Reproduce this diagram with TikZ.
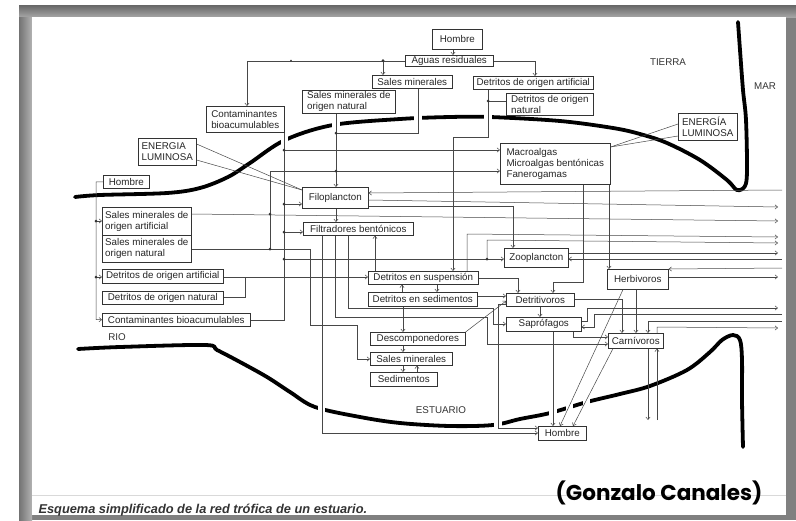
\documentclass[tikz,border=0pt]{standalone}
\usepackage{fontspec}
\setmainfont{Liberation Sans}
\newfontfamily\gcfont{Poppins}
\usetikzlibrary{arrows.meta,calc}
\tikzset{
 box/.style={draw=black!80, line width=0.6pt, fill=white, font=\fontsize{9.8}{11}\selectfont, text=black!85, inner sep=1pt, anchor=north west, align=left},
 ln/.style={draw=black!72, line width=0.5pt},
 arr/.style={ln, -{Straight Barb[length=2.6pt,width=4.2pt]}},
 bank/.style={line width=3.8pt, line cap=round, line join=round, draw=black},
 lbl/.style={font=\fontsize{9.8}{11}\selectfont, text=black!80},
 gap/.style={fill=white},
}
\newcommand{\mybox}[6]{\node[box, minimum width={(#4-#2)*1pt}, minimum height={(#5-#3)*1pt}] (#1) at (#2,#3) {#6};}
\newcommand{\jdot}[1]{\fill[black!80] #1 circle (1.5pt);}
\begin{document}
\begin{tikzpicture}[x=1pt,y=-1pt]
\useasboundingbox (0,0) rectangle (796,520);
\fill[white] (0,0) rectangle (796,520);
\fill[black!50] (19,5) rectangle (796,520);
\shade[top color=black!60, bottom color=black!35] (19,5) rectangle (796,17);
\shade[left color=black!55, right color=black!30] (19,17) rectangle (32,520);
\fill[white] (32,17) rectangle (786,515);
\draw[black!15, line width=0.6pt] (32,495) -- (786,495);

% banks
\draw[bank] plot[smooth, tension=0.55] coordinates {(75,197) (100,195) (167,193) (200,188) (228,177) (250,163) (285,140) (333,125) (400,119) (450,117) (490,117) (560,121) (613,128) (640,134) (667,143) (700,160) (727,180) (737,190) (745,186) (747,170) (746,120) (743,90) (740,50) (738,22)};
\draw[bank] plot[smooth, tension=0.55] coordinates {(78,349) (120,347) (205,345) (217,350) (240,362) (267,377) (290,392) (315,407) (360,417) (400,423) (450,426) (493,425) (520,419) (550,413) (587,402) (620,394) (650,386) (687,370) (710,352) (722,340) (733,335) (740,340) (742,360) (742,400) (743,447)};
\fill[gap] (281,130) rectangle (288,150);
\fill[gap] (332,116) rectangle (340,134);
\fill[gap] (414,110) rectangle (422,128);
\fill[gap] (484,108) rectangle (492,126);
\fill[gap] (318,398) rectangle (325,418);
\fill[gap] (494,414) rectangle (502,434);
\fill[gap] (549,402) rectangle (557,422);
\fill[gap] (566,397) rectangle (573,416);
\fill[gap] (583,392) rectangle (590,411);

% labels
\node[lbl] (tierra) at (668,62) {TIERRA};
\node[lbl] (mar) at (765,86) {MAR};
\node[lbl] (rio) at (117,337) {RIO};
\node[lbl] (estuario) at (441,410) {ESTUARIO};
\node[font=\bfseries\itshape\fontsize{12.8}{14}\selectfont, text=black!80, anchor=west] (cap) at (35,510) {Esquema simplificado de la red trófica de un estuario.};
\node[font=\gcfont\bfseries\fontsize{21.5}{24}\selectfont, text=black] (gc) at (659,493) {(Gonzalo Canales)};

% boxes
\mybox{hT}{432}{29}{482}{49}{Hombre}
\mybox{agu}{405}{55}{493}{66}{Aguas residuales}
\mybox{smT}{372}{75}{452}{88}{Sales minerales}
\mybox{daT}{473}{76}{593}{89}{Detritos de origen artificial}
\mybox{dnT}{506}{93}{593}{115}{Detritos de origen\\natural}
\mybox{smnT}{302}{90}{395}{113}{Sales minerales de\\origen natural}
\mybox{conT}{206}{106}{284}{132}{Contaminantes\\bioacumulables}
\mybox{enL}{138}{138}{196}{165}{ENERGIA\\LUMINOSA}
\mybox{enR}{678}{113}{737}{140}{ENERGÍA\\LUMINOSA}
\mybox{mac}{500}{143}{610}{184}{Macroalgas\\Microalgas bentónicas\\Fanerogamas}
\mybox{hL}{103}{175}{149}{188}{Hombre}
\mybox{fil}{302}{187}{368}{208}{Filoplancton}
\mybox{sma}{102}{207}{191}{235}{Sales minerales de\\origen artificial}
\mybox{smn}{102}{235}{191}{262}{Sales minerales de\\origen natural}
\mybox{ftb}{303}{222}{413}{235}{Filtradores bentónicos}
\mybox{zoo}{504}{248}{568}{267}{Zooplancton}
\mybox{daL}{102}{269}{223}{283}{Detritos de origen artificial}
\mybox{dsu}{368}{271}{478}{284}{Detritos en suspensión}
\mybox{her}{607}{269}{668}{289}{Herbivoros}
\mybox{dnL}{102}{291}{223}{304}{Detritos de origen natural}
\mybox{dse}{368}{292}{477}{306}{Detritos en sedimentos}
\mybox{dtv}{506}{293}{574}{306}{Detritivoros}
\mybox{conL}{102}{313}{250}{326}{Contaminantes bioacumulables}
\mybox{sap}{506}{317}{581}{331}{Saprófagos}
\mybox{des}{370}{332}{465}{345}{Descomponedores}
\mybox{car}{608}{333}{663}{348}{Carnívoros}
\mybox{smB}{370}{352}{452}{365}{Sales minerales}
\mybox{sed}{370}{372}{437}{386}{Sedimentos}
\mybox{hB}{538}{426}{586}{440}{Hombre}

% top connectors
\draw[arr] (453,0 |- hT.south) -- (453,0 |- agu.north);
\draw[arr] (agu.west) -| (247,0 |- conT.north);
\draw[arr] (383,0 |- agu.west) -- (383,0 |- smT.north);
\draw[arr] (agu.east) -| (535,0 |- daT.north);
\draw[ln] (418,0 |- smT.south) |- (336,133);
\draw[arr] (336,0 |- smnT.south) -- (336,0 |- fil.north);
\draw[ln] (270,171) -- (270,249);
\draw[arr] (270,171) -- (0,171 -| mac.west);
\draw[ln] (conL.east) -| (284,0 |- conT.south);
\draw[arr] (284,150) -- (0,150 -| mac.west);
\draw[arr] (284,204) -- (0,204 -| fil.west);
\draw[arr] (284,232) -- (0,232 -| ftb.west);
\draw[arr] (284,259) -- (0,259 -| zoo.west);
\draw[arr] (487,259) -- (487,240) -- (778,243);
\draw[ln] (enL.east |- 0,144) -- (fil.west |- 0,190);
\draw[ln] (enL.east |- 0,160) -- (fil.west |- 0,190);
\draw[ln] (enR.west |- 0,124) -- (mac.east |- 0,147);
\draw[ln] (enR.west |- 0,136) -- (mac.east |- 0,147);
\draw[ln] (488,0 |- daT.south) -- (488,137) -- (453,137);
\draw[arr] (453,137) -- (453,0 |- dsu.north);
\draw[ln] (488,101) -- (0,101 -| dnT.west);
\draw[arr] (583,0 |- mac.south) -- (583,282) -- (553,282) -- (553,0 |- dtv.north);
\draw[arr] (609,0 |- mac.south) -- (609,0 |- her.north);

% left connectors
\draw[arr] (hL.west) -| (96,319.5) -- (conL.west);
\draw[arr] (96,221) -- (0,221 -| sma.west);
\draw[arr] (96,277) -- (0,277 -| daL.west);
\draw[arr] (sma.east |- 0,214) -- (778,221);
\draw[arr] (smn.east |- 0,249) -- (310,249) -- (310,325) -- (357,325) -- (357,359) -- (0,359 -| smB.west);
\draw[arr] (daL.east |- 0,277) -- (0,277 -| dsu.west);
\draw[ln] (dnL.east |- 0,297) -- (245,297) -- (245,277);

% middle
\draw[arr] (336,0 |- fil.south) -- (336,0 |- ftb.north);
\draw[arr] (782,190) -- (fil.east |- 0,193);
\draw[arr] (fil.east |- 0,200) -- (778,207);
\draw[arr] (fil.east |- 0,206) -- (513,206) -- (513,0 |- zoo.north);
\draw[arr] (375,0 |- dsu.north) -- (375,0 |- ftb.south);
\draw[arr] (322,0 |- ftb.south) -- (322,433) -- (0,433 -| hB.west);
\draw[arr] (335,0 |- ftb.south) -- (335,317) -- (487,317) -- (487,344) -- (0,344 -| car.west);
\draw[arr] (348,0 |- ftb.south) -- (348,308) -- (493,308) -- (493,324) -- (0,324 -| sap.west);
\draw[arr] (dsu.east |- 0,278) -- (518,278) -- (518,0 |- dtv.north);
\draw[arr] (467,0 |- dsu.north) -- (467,234) -- (778,237);
\draw[arr] (402,0 |- dse.north) -- (402,0 |- dsu.south);
\draw[arr] (437,0 |- dsu.south) -- (437,0 |- dse.north);
\draw[arr] (dse.east |- 0,296) -- (0,296 -| dtv.west);
\draw[arr] (403,0 |- dse.south) -- (403,0 |- des.north);
\draw[arr] (403,0 |- des.south) -- (403,0 |- smB.north);
\draw[arr] (403,0 |- smB.south) -- (403,0 |- sed.north);
\draw[arr] (417,0 |- sed.north) -- (417,0 |- smB.south);
\draw[arr] (des.north east) -- (dtv.west |- 0,301);
\draw[arr] (540,0 |- dtv.south) -- (540,0 |- sap.north);
\draw[arr] (dtv.east |- 0,299) -- (622,299) -- (622,0 |- car.north);
\draw[arr] (dtv.west |- 0,304) -- (498,304) -- (498,428) -- (0,428 -| hB.west);
\draw[arr] (636,0 |- her.south) -- (636,0 |- car.north);
\draw[arr] (623,0 |- her.south) -- (560,0 |- hB.north);
\draw[arr] (613,0 |- car.south) -- (573,0 |- hB.north);
\draw[arr] (553,0 |- sap.south) -- (553,0 |- hB.north);
\draw[arr] (573,0 |- sap.south) -- (573,337) -- (0,337 -| car.west);
\draw[arr] (648,0 |- car.south) -- (648,420);
\draw[arr] (657,420) -- (657,0 |- car.south);
\draw[arr] (782,321) -- (648,321) -- (648,0 |- car.north);
\draw[arr] (657,0 |- car.north) -- (657,327) -- (778,328);
\draw[arr] (sap.east |- 0,321) -- (587,321) -- (587,308) -- (778,308);
\draw[arr] (782,314) -- (594,314) -- (594,327) -- (0,327 -| sap.east);
\draw[arr] (zoo.east |- 0,253) -- (778,253);
\draw[arr] (782,259) -- (zoo.east |- 0,259);
\draw[arr] (782,268) -- (her.north east);
\draw[arr] (her.east |- 0,277) -- (778,277);

% junction dots
\jdot{(336,133)} \jdot{(336,171)} \jdot{(270,214)} \jdot{(270,249)}
\jdot{(284,150)} \jdot{(284,204)} \jdot{(284,232)} \jdot{(284,259)}
\jdot{(487,259)} \jdot{(488,101)} \jdot{(383,60.5)} \jdot{(96,221)} \jdot{(96,277)}
\fill[black!80] (291,60.5) circle (0.9pt);
\end{tikzpicture}
\end{document}
